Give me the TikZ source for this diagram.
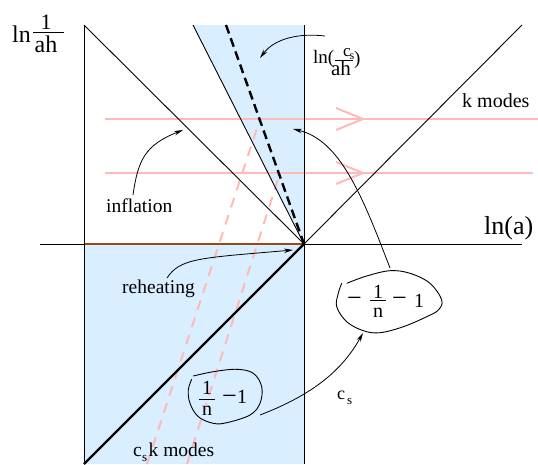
\documentclass[tikz,border=0pt]{standalone}
\usepackage{fontspec}
\setmainfont{Liberation Serif}
\usetikzlibrary{arrows.meta}
\definecolor{skyfill}{RGB}{217,238,255}
\definecolor{pinkline}{RGB}{255,185,185}
\definecolor{brownline}{RGB}{150,75,25}
\newcommand{\fsz}[1]{\fontsize{#1}{#1}\selectfont}
\begin{document}
\begin{tikzpicture}[x=1pt,y=-1pt,
  thinline/.style={line width=0.9pt,black},
  thickline/.style={line width=2.2pt,black},
  pinkarrowline/.style={line width=2pt,pinkline},
  pinkdash/.style={line width=2pt,pinkline,dash pattern=on 10pt off 8pt},
  blackdash/.style={line width=2.4pt,black,dash pattern=on 9pt off 5pt},
  pointer/.style={line width=0.8pt,-{Stealth[length=9pt,width=4.5pt]}},
  loopline/.style={line width=0.9pt},
  lbl/.style={inner sep=0pt,anchor=base west},
  lblc/.style={inner sep=0pt,anchor=base},
  fracbar/.style={line width=0.8pt}
]
\useasboundingbox (0,0) rectangle (538,464);

% key points
\coordinate (O) at (304,244);
\coordinate (TL) at (84,25);
\coordinate (BL) at (84,464);
\coordinate (TR) at (522,25);
\coordinate (BT) at (193,25);
\coordinate (RT) at (304,25);
\coordinate (RB) at (304,464);
\coordinate (DT) at (226,25);
\coordinate (AxL) at (40,244);
\coordinate (AxR) at (522,244);
\coordinate (LA) at (84,244);

% blue regions
\fill[skyfill] (BT) -- (RT) -- (O) -- cycle;
\fill[skyfill] (LA) rectangle (RB);

% pink horizontal lines with open chevrons
\coordinate (P1a) at (105,119); \coordinate (P1b) at (538,119);
\coordinate (P2a) at (105,173); \coordinate (P2b) at (533,173);
\draw[pinkarrowline] (P1a) -- (P1b);
\draw[pinkarrowline] (P2a) -- (P2b);
\coordinate (C1) at (363,119);
\coordinate (C2) at (363,173);
\draw[pinkarrowline] ([shift={(-27,-11)}]C1) -- (C1) -- ([shift={(-27,11)}]C1);
\draw[pinkarrowline] ([shift={(-27,-11)}]C2) -- (C2) -- ([shift={(-27,11)}]C2);

% pink dashed lines
\coordinate (QA1) at (147,464); \coordinate (QA2) at (260,119);
\coordinate (QB1) at (187,464); \coordinate (QB2) at (280,173);
\draw[pinkdash] (QA1) -- (QA2);
\draw[pinkdash] (QB1) -- (QB2);

% axes and lines
\draw[thinline] (AxL) -- (AxR);
\draw[line width=1.6pt,brownline] (LA) -- (O);
\draw[thinline] (TL) -- (BL);
\draw[thinline] (RT) -- (RB);
\draw[thinline] (TL) -- (O);
\draw[thinline] (O) -- (TR);
\draw[thinline] (BT) -- (O);
\draw[blackdash] (DT) -- (O);
\draw[thickline] (BL) -- (O);

% labels
\node[lbl,font=\fsz{24}] (lnA) at (12,42) {ln};
\node[lblc,font=\fsz{22}] (lnAnum) at (46,29) {1};
\node[lblc,font=\fsz{24}] (lnAden) at (46,52) {ah};
\draw[fracbar] (33,32) -- (64,32);

\node[lbl,font=\fsz{19}] (lnB) at (313,63) {ln(};
\node[lbl,font=\fsz{17}] (lnBc) at (343,56) {c};
\node[lbl,font=\fsz{12}] (lnBs) at (349.5,59) {s};
\draw[fracbar] (335,60) -- (353,60);
\node[lblc,font=\fsz{21}] (lnBden) at (341,75) {ah};
\node[lbl,font=\fsz{19}] (lnBr) at (354,64) {)};

\node[lbl,font=\fsz{20}] (kmodes) at (462,107) {k modes};
\node[lbl,font=\fsz{26}] (lna) at (484,234) {ln(a)};
\node[lbl,font=\fsz{19.5}] (infl) at (106,212) {inflation};
\node[lbl,font=\fsz{19.5}] (reh) at (122,293) {reheating};

\node[lbl,font=\fsz{19.5}] (cskc) at (133,456) {c};
\node[lbl,font=\fsz{13}] (csks) at (142,461) {s};
\node[lbl,font=\fsz{19.5}] (cskm) at (148.5,456) {k modes};

\node[lbl,font=\fsz{18}] (csc) at (337,399) {c};
\node[lbl,font=\fsz{13}] (css) at (347,404) {s};

% upper loop
\draw[loopline] plot[smooth,tension=0.6] coordinates {(346.7,283.3) (366.7,276) (390,270.7) (410,273.3) (430,283.3) (441.7,300) (438.3,310) (426.7,316.7) (403.3,326.7) (380,332.7) (363.3,330.7) (346.7,321.7) (336.7,306.7) (338.3,293.3) (341.7,283.3)};
\node[lbl,font=\fsz{26}] (um1) at (347,306.5) {−};
\node[lblc,font=\fsz{20}] (unum) at (378,298) {1};
\draw[fracbar] (370,300) -- (386,300);
\node[lblc,font=\fsz{20}] (uden) at (378,317) {n};
\node[lbl,font=\fsz{26}] (um2) at (392,306.5) {−};
\node[lbl,font=\fsz{20}] (uone) at (414,307) {1};

% lower loop
\draw[loopline] plot[smooth,tension=0.6] coordinates {(193.3,376) (213.3,371.7) (236.7,369.3) (253.3,373.3) (261.7,386.7) (260,403.3) (250,415) (226.7,422.7) (213.3,423.3) (198.3,416.7) (190,403.3) (188.3,390) (191.7,379.3)};
\node[lblc,font=\fsz{20}] (lnum) at (207,394) {1};
\draw[fracbar] (199,399) -- (215,399);
\node[lblc,font=\fsz{20}] (lden) at (207,415) {n};
\node[lbl,font=\fsz{26}] (lm) at (222,404.5) {−};
\node[lbl,font=\fsz{20}] (lone) at (237,403) {1};

% pointers
\coordinate (s1) at (325,36); \coordinate (t1) at (260,58);
\draw[pointer] (s1) .. controls (300,33) and (275,38) .. (t1);
\coordinate (s2) at (390,268); \coordinate (t2) at (293,129);
\draw[pointer] (s2) .. controls (362,195) and (340,140) .. (t2);
\coordinate (s3) at (133,195); \coordinate (t3) at (183,130);
\draw[pointer] (s3) .. controls (138,160) and (145,145) .. (t3);
\coordinate (s4) at (167,278); \coordinate (t4) at (293,250);
\draw[pointer] (s4) .. controls (180,258) and (200,258) .. (t4);
\coordinate (s5) at (260,415); \coordinate (t5) at (363,333);
\draw[pointer] (s5) .. controls (320,392) and (345,365) .. (t5);
\end{tikzpicture}
\end{document}
